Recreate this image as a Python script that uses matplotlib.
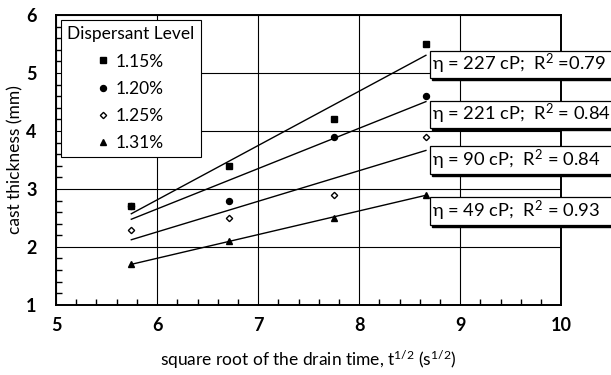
import matplotlib.pyplot as plt
import numpy as np
from matplotlib.patches import Rectangle
from matplotlib.ticker import MultipleLocator

plt.rcParams['font.family'] = ['Lato', 'DejaVu Sans']
plt.rcParams['mathtext.default'] = 'regular'

# sqrt of drain time (s^1/2)
sqrt_t = [5.745, 6.708, 7.746, 8.660]

levels = ['1.15%', '1.20%', '1.25%', '1.31%']
thick_115 = [2.7, 3.4, 4.2, 5.5]
thick_120 = [2.7, 2.8, 3.9, 4.6]
thick_125 = [2.3, 2.5, 2.9, 3.9]
thick_131 = [1.7, 2.1, 2.5, 2.9]

fit_labels = [r'$\eta$ = 227 cP;  R$^2$ =0.79',
              r'$\eta$ = 221 cP;  R$^2$ = 0.84',
              r'$\eta$ = 90 cP;  R$^2$ = 0.84',
              r'$\eta$ = 49 cP;  R$^2$ = 0.93']
label_y = [5.15, 4.29, 3.50, 2.62]

series = [thick_115, thick_120, thick_125, thick_131]
markers = [('s', 'k', 5.0), ('o', 'k', 4.3), ('D', 'none', 3.2), ('^', 'k', 4.8)]

fig = plt.figure(figsize=(6.11, 3.75), dpi=100)
ax = fig.add_axes([0.0917, 0.187, 0.827, 0.773])

x = np.array(sqrt_t)
for i, (ys, lev, (m, fc, ms)) in enumerate(zip(series, levels, markers)):
    ax.plot(x, ys, linestyle='none', marker=m, mfc=fc, mec='k', mew=1.0,
            ms=ms, label=lev, zorder=5 - i)
    k, b = np.polyfit(x, ys, 1)
    ax.plot([x[0], x[-1]], [k * x[0] + b, k * x[-1] + b], color='k', lw=1.0, zorder=3)

ax.set_xlim(5, 10)
ax.set_ylim(1, 6)
ax.xaxis.set_major_locator(MultipleLocator(1))
ax.yaxis.set_major_locator(MultipleLocator(1))
ax.xaxis.set_minor_locator(MultipleLocator(0.2))
ax.yaxis.set_minor_locator(MultipleLocator(0.2))
ax.tick_params(which='both', direction='in', top=False, right=False)
ax.tick_params(which='major', length=0, labelsize=13)
ax.tick_params(axis='x', which='major', pad=9)
ax.tick_params(axis='y', which='major', pad=14)
ax.tick_params(which='minor', length=4, width=1)
for lbl in ax.get_xticklabels() + ax.get_yticklabels():
    lbl.set_fontweight('bold')
ax.grid(True, which='major', color='k', lw=0.8)
for s in ax.spines.values():
    s.set_linewidth(1.4)

ax.set_xlabel(r'square root of the drain time, t$^{1/2}$ (s$^{1/2}$)', fontsize=12.5, labelpad=10)
ax.set_ylabel('cast thickness (mm)', fontsize=12.5, labelpad=2)

leg = ax.legend(title='Dispersant Level', loc='upper left', fontsize=12.5,
                title_fontsize=12.5, fancybox=False, edgecolor='k', framealpha=1,
                handlelength=0.6, handletextpad=0.4, borderaxespad=0.3,
                labelspacing=0.65, borderpad=0.35)
leg.get_frame().set_linewidth(0.8)

# fit result boxes with a drop shadow, running off the right edge
for ly, txt in zip(label_y, fit_labels):
    y0 = ly - 0.235
    h = 0.47
    ax.add_patch(Rectangle((8.7 + 0.02, y0 - 0.04), 2.0, h, transform=ax.transData,
                           facecolor='k', edgecolor='k', clip_on=False, zorder=6))
    ax.add_patch(Rectangle((8.7, y0), 2.0, h, transform=ax.transData,
                           facecolor='white', edgecolor='k', lw=0.9, clip_on=False, zorder=7))
    ax.text(8.72, ly, txt, fontsize=13.2, va='center', ha='left', zorder=8, clip_on=False)

fig.savefig('out.png', dpi=100)
